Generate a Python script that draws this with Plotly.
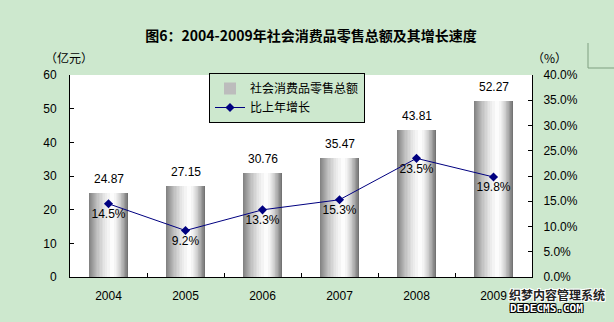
import plotly.graph_objects as go

years = ["2004", "2005", "2006", "2007", "2008", "2009"]
sales = [24.87, 27.15, 30.76, 35.47, 43.81, 52.27]          # 亿元
growth = [14.5, 9.2, 13.3, 15.3, 23.5, 19.8]                 # %
sales_labels = [f"{v:.2f}" for v in sales]
growth_labels = [f"{v:.1f}%" for v in growth]
growth_frac = [v / 100 for v in growth]

BG = "#CDE8CE"
FONT = "Arial, 'Liberation Sans', 'Noto Sans CJK SC', sans-serif"
CJK = "'Noto Sans CJK SC', sans-serif"

fig = go.Figure()

# cylinder-like gradient bars: nested overlay layers
BAR_W = 0.5
PEAK = 0.6
N = 18
lo_left, lo_right = 135, 115
p = 1.6
for k in range(N):
    L = lo_right + (252 - lo_right) * k / (N - 1)
    dl = min(1.0, max(0.0, (255 - L) / (255 - lo_left))) ** (1 / p)
    dr = min(1.0, max(0.0, (255 - L) / (255 - lo_right))) ** (1 / p)
    tl = PEAK - PEAK * dl
    tr = PEAK + (1 - PEAK) * dr
    c = int(round(L))
    fig.add_trace(go.Bar(
        x=years, y=sales,
        width=(tr - tl) * BAR_W,
        offset=-BAR_W / 2 + tl * BAR_W,
        marker=dict(color=f"rgb({c},{c},{c})", line=dict(width=0)),
        name="社会消费品零售总额",
        showlegend=(k == N // 2),
        hoverinfo="skip",
        yaxis="y",
    ))

fig.add_trace(go.Scatter(
    x=years, y=growth_frac, yaxis="y2",
    mode="lines+markers+text",
    line=dict(color="#000080", width=1),
    marker=dict(symbol="diamond", size=7, color="#000080"),
    text=growth_labels, textposition="bottom center",
    textfont=dict(family=FONT, size=12, color="black"),
    name="比上年增长",
))

annotations = []
for i, (v, t) in enumerate(zip(sales, sales_labels)):
    annotations.append(dict(x=i, y=v, xref="x", yref="y", text=t,
                            showarrow=False, yanchor="middle", yshift=14,
                            font=dict(family=FONT, size=12, color="black")))
annotations += [
    dict(x=-0.002, y=1.089, xref="paper", yref="paper", text="（亿元）",
         showarrow=False, xanchor="center", yanchor="middle",
         font=dict(family=CJK, size=12, color="black")),
    dict(x=1.037, y=1.089, xref="paper", yref="paper", text="（%）",
         showarrow=False, xanchor="center", yanchor="middle",
         font=dict(family=CJK, size=12, color="black")),
]
# watermark
annotations += [
    dict(x=(507 - 70) / 462, y=(277 - 294) / 202, xref="paper", yref="paper",
         text="<b>织梦内容管理系统</b>", showarrow=False,
         xanchor="left", yanchor="middle",
         font=dict(family=CJK, size=12, color="#222222",
                   shadow="-1px -1px 0 #fff, 1px -1px 0 #fff, -1px 1px 0 #fff, 1px 1px 0 #fff")),
    dict(x=(508 - 70) / 462, y=(277 - 308) / 202, xref="paper", yref="paper",
         text="<b>DEDECMS.COM</b>", showarrow=False,
         xanchor="left", yanchor="middle",
         font=dict(family="'DejaVu Sans Mono', monospace", size=11, color="white",
                   shadow="-1px -1px 0 #000, 1px -1px 0 #000, -1px 1px 0 #000, 1px 1px 0 #000")),
]

fig.update_layout(
    width=614, height=322,
    margin=dict(l=70, r=82, t=75, b=45),
    paper_bgcolor=BG, plot_bgcolor="white",
    barmode="overlay", bargap=0,
    font=dict(family=FONT, size=12, color="black"),
    title=dict(text="<b>图6：2004-2009年社会消费品零售总额及其增长速度</b>",
               x=311 / 614, xanchor="center", y=1 - 36 / 322, yanchor="middle",
               yref="container", font=dict(family=CJK, size=14, color="black")),
    xaxis=dict(type="category", range=[-0.5, len(years) - 0.5],
               showline=True, linecolor="black", linewidth=1,
               ticks="inside", tickson="boundaries", ticklen=4, tickcolor="black",
               showgrid=False, ticklabelstandoff=8, tickangle=0,
               tickfont=dict(family=FONT, size=12)),
    yaxis=dict(range=[0, 60], dtick=10, showline=True, linecolor="black", linewidth=1,
               ticks="inside", ticklen=4, tickcolor="black", showgrid=False,
               zeroline=False, ticklabelstandoff=10,
               tickfont=dict(family=FONT, size=12)),
    yaxis2=dict(range=[0, 0.40], dtick=0.05, tickformat=".1%", overlaying="y",
                side="right", showline=True, linecolor="black", linewidth=1,
                ticks="inside", ticklen=4, tickcolor="black", showgrid=False,
                zeroline=False, ticklabelstandoff=8,
                tickfont=dict(family=FONT, size=12)),
    legend=dict(x=(209 - 70) / 462, y=(277 - 73) / 202, xanchor="left", yanchor="top",
                bgcolor=BG, bordercolor="black", borderwidth=1,
                font=dict(family=CJK, size=12, color="black"),
                tracegroupgap=0, itemwidth=30),
    annotations=annotations,
    shapes=[dict(type="path", xref="paper", yref="paper",
                 path=f"M {(588-70)/462} {(277-43)/202} L {(588-70)/462} {(277-68)/202} L {(614-70)/462} {(277-68)/202}",
                 line=dict(color="#7F9F80", width=1))],
    showlegend=True,
)

fig.write_html("out.html")
